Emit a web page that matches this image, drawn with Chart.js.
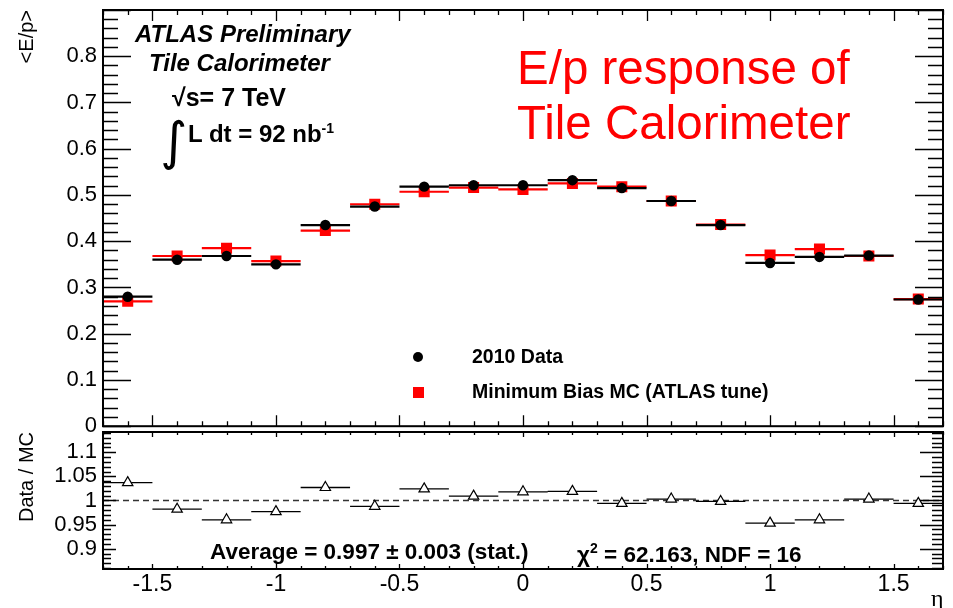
<!DOCTYPE html>
<html>
<head>
<meta charset="utf-8">
<script src="https://cdn.jsdelivr.net/npm/chart.js@4.4.1/dist/chart.umd.min.js"></script>
<style>
  body { margin: 0; background: #fff; }
  #wrap { position: relative; width: 953px; height: 608px; overflow: hidden; font-family: "Liberation Sans", Arial, sans-serif; }
  canvas { position: absolute; left: 0; }
  #epCanvas { top: 0; }
  #ratioCanvas { top: 420px; }
  .t { position: absolute; white-space: nowrap; line-height: 1; color: #000; }
  .b { font-weight: bold; }
  .bi { font-weight: bold; font-style: italic; }
  .red { color: #ff0000; font-size: 47.5px; }
</style>
</head>
<body>
<div id="wrap">
  <canvas id="epCanvas" width="953" height="434"></canvas>
  <canvas id="ratioCanvas" width="953" height="188"></canvas>

  <div class="t bi" style="left:135px; top:22px; font-size:24px;">ATLAS Preliminary</div>
  <div class="t bi" style="left:149px; top:51px; font-size:24px;">Tile Calorimeter</div>
  <div class="t b" style="left:172px; top:85px; font-size:25px;">&radic;s= 7 TeV</div>
  <div class="t" style="left:160px; top:115px; font-size:52px; font-family:'DejaVu Sans';">&int;</div>
  <div class="t b" style="left:188px; top:121px; font-size:24px;">L dt = 92 nb<sup style="font-size:14px; vertical-align:9px;">-1</sup></div>

  <div class="t red" style="left:517px; top:44px;">E/p response of</div>
  <div class="t red" style="left:517px; top:99px;">Tile Calorimeter</div>

  <div style="position:absolute; left:413px; top:352px; width:10px; height:10px; border-radius:50%; background:#000;"></div>
  <div class="t b" style="left:472px; top:347px; font-size:19.5px;">2010 Data</div>
  <div style="position:absolute; left:413px; top:387px; width:11px; height:11px; background:#ff0000;"></div>
  <div class="t b" style="left:472px; top:382px; font-size:19.5px;">Minimum Bias MC (ATLAS tune)</div>

  <div class="t b" style="left:210px; top:541px; font-size:22.5px;">Average = 0.997 &plusmn; 0.003 (stat.)</div>
  <div class="t b" style="left:577px; top:541px; font-size:22.5px;">&chi;<sup style="font-size:14px; vertical-align:9px;">2</sup> = 62.163, NDF = 16</div>

  <div class="t" style="left:931px; top:586px; font-size:24px; font-family:'Liberation Serif', serif;">&eta;</div>
</div>

<script>
// eta bin centres (bin width 0.2)
const eta = [-1.6, -1.4, -1.2, -1.0, -0.8, -0.6, -0.4, -0.2, 0, 0.2, 0.4, 0.6, 0.8, 1.0, 1.2, 1.4, 1.6];
const binHalfWidth = 0.1;

// <E/p> in each bin
const dataEp = [0.280, 0.360, 0.368, 0.350, 0.435, 0.475, 0.518, 0.521, 0.521, 0.532, 0.515, 0.487, 0.435, 0.353, 0.366, 0.369, 0.274];
const mcEp = [0.270, 0.368, 0.385, 0.357, 0.423, 0.480, 0.507, 0.516, 0.512, 0.525, 0.518, 0.487, 0.436, 0.370, 0.383, 0.368, 0.275];

// data / MC
const ratio = [1.037, 0.982, 0.960, 0.977, 1.027, 0.988, 1.024, 1.009, 1.018, 1.019, 0.994, 1.003, 0.998, 0.953, 0.960, 1.003, 0.994];

// axis tick labels
const etaTicks = [-1.5, -1, -0.5, 0, 0.5, 1, 1.5];
const epTicks = [0, 0.1, 0.2, 0.3, 0.4, 0.5, 0.6, 0.7, 0.8];
const ratioTicks = [0.9, 0.95, 1, 1.05, 1.1];

const family = "'Liberation Sans', Arial, sans-serif";

// horizontal bars spanning each bin, broken between bins
function binBars(values) {
  const pts = [];
  values.forEach((v, i) => {
    pts.push({ x: eta[i] - binHalfWidth, y: v });
    pts.push({ x: eta[i] + binHalfWidth, y: v });
    pts.push({ x: eta[i] + binHalfWidth, y: null });
  });
  return pts;
}

function points(values) {
  return values.map((v, i) => ({ x: eta[i], y: v }));
}

// ROOT-style frame with inward ticks on all four sides
function drawTicks(ctx, scale, spec, a, horizontal) {
  const kMin = Math.ceil(scale.min / spec.minor - 1e-6);
  const kMax = Math.floor(scale.max / spec.minor + 1e-6);
  ctx.beginPath();
  for (let k = kMin; k <= kMax; k++) {
    const p = Math.round(scale.getPixelForValue(k * spec.minor)) + 0.5;
    const major = k % spec.every === 0;
    const l1 = major ? spec.a[0] : spec.a[1];
    const l2 = major ? spec.b[0] : spec.b[1];
    if (horizontal) {
      ctx.moveTo(p, a.bottom); ctx.lineTo(p, a.bottom - l1);
      ctx.moveTo(p, a.top); ctx.lineTo(p, a.top + l2);
    } else {
      ctx.moveTo(a.left, p); ctx.lineTo(a.left + l1, p);
      ctx.moveTo(a.right, p); ctx.lineTo(a.right - l2, p);
    }
  }
  ctx.stroke();
}

const rootFrame = {
  id: 'rootFrame',
  afterDatasetsDraw(chart, args, opts) {
    const { ctx, chartArea: a, scales } = chart;
    ctx.save();
    ctx.strokeStyle = '#000';
    ctx.lineWidth = 1.3;
    drawTicks(ctx, scales.x, opts.x, a, true);
    drawTicks(ctx, scales.y, opts.y, a, false);
    ctx.lineWidth = 2;
    ctx.strokeRect(a.left, a.top, a.right - a.left, a.bottom - a.top);
    ctx.restore();
  }
};

function fmt(digits) {
  return v => String(+Number(v).toFixed(digits));
}

// keep the y axis a fixed width and stop it padding the plot area
function fixY(s) {
  s.width = 103;
  s.paddingTop = 0;
  s.paddingBottom = 0;
}

// upper panel: <E/p> vs eta
new Chart(document.getElementById('epCanvas'), {
  type: 'scatter',
  data: {
    datasets: [
      { type: 'scatter', data: points(dataEp), pointStyle: 'circle', pointRadius: 5.2, pointBackgroundColor: '#000', pointBorderColor: '#000', pointBorderWidth: 0, order: 0 },
      { type: 'line', data: binBars(dataEp), borderColor: '#000', borderWidth: 2.2, pointRadius: 0, spanGaps: false, order: 1 },
      { type: 'scatter', data: points(mcEp), pointStyle: 'rect', pointRadius: 7.8, pointBackgroundColor: '#ff0000', pointBorderColor: '#ff0000', pointBorderWidth: 0, order: 2 },
      { type: 'line', data: binBars(mcEp), borderColor: '#ff0000', borderWidth: 2.2, pointRadius: 0, spanGaps: false, order: 3 }
    ]
  },
  options: {
    responsive: false,
    animation: false,
    layout: { padding: { left: 0, top: 10, right: 10, bottom: 3 } },
    plugins: {
      legend: { display: false },
      tooltip: { enabled: false },
      rootFrame: {
        x: { minor: 0.1, every: 5, a: [11, 5], b: [11, 5] },
        y: { minor: 0.02, every: 5, a: [28, 15], b: [28, 15] }
      }
    },
    scales: {
      x: { type: 'linear', min: -1.7, max: 1.7, display: false },
      y: {
        type: 'linear', min: 0, max: 0.9,
        grid: { display: false, drawTicks: false }, border: { display: false },
        afterBuildTicks: s => { s.ticks = epTicks.map(v => ({ value: v })); },
        afterFit: fixY,
        ticks: { color: '#000', font: { family, size: 22 }, padding: 6, callback: fmt(1) },
        title: { display: true, text: '<E/p>', align: 'end', color: '#000', font: { family, size: 20 }, padding: { top: 15 } }
      }
    }
  },
  plugins: [rootFrame]
});

// lower panel: data / MC ratio
new Chart(document.getElementById('ratioCanvas'), {
  type: 'scatter',
  data: {
    datasets: [
      { type: 'scatter', data: points(ratio), pointStyle: 'triangle', pointRadius: 6, pointBackgroundColor: '#fff', pointBorderColor: '#000', pointBorderWidth: 1.2, order: 0 },
      { type: 'line', data: binBars(ratio), borderColor: '#000', borderWidth: 1.3, pointRadius: 0, spanGaps: false, order: 1 },
      { type: 'line', data: [{ x: -1.7, y: 1 }, { x: 1.7, y: 1 }], borderColor: '#333', borderWidth: 1.5, borderDash: [6, 4], pointRadius: 0, order: 2 }
    ]
  },
  options: {
    responsive: false,
    animation: false,
    layout: { padding: { left: 0, top: 12, right: 10, bottom: 0 } },
    plugins: {
      legend: { display: false },
      tooltip: { enabled: false },
      rootFrame: {
        x: { minor: 0.1, every: 5, a: [5, 3], b: [5, 3] },
        y: { minor: 0.01, every: 5, a: [13, 8], b: [23, 11] }
      }
    },
    scales: {
      x: {
        type: 'linear', min: -1.7, max: 1.7,
        grid: { display: false, drawTicks: false }, border: { display: false },
        afterBuildTicks: s => { s.ticks = etaTicks.map(v => ({ value: v })); },
        afterFit: s => { s.height = 39; s.paddingLeft = 0; s.paddingRight = 0; },
        ticks: { color: '#000', font: { family, size: 23 }, padding: 2, maxRotation: 0, callback: fmt(1) }
      },
      y: {
        type: 'linear', min: 0.858, max: 1.142,
        grid: { display: false, drawTicks: false }, border: { display: false },
        afterBuildTicks: s => { s.ticks = ratioTicks.map(v => ({ value: v })); },
        afterFit: fixY,
        ticks: { color: '#000', font: { family, size: 22 }, padding: 6, callback: fmt(2) },
        title: { display: true, text: 'Data / MC', align: 'end', color: '#000', font: { family, size: 20 }, padding: { top: 15 } }
      }
    }
  },
  plugins: [rootFrame]
});
</script>
</body>
</html>
